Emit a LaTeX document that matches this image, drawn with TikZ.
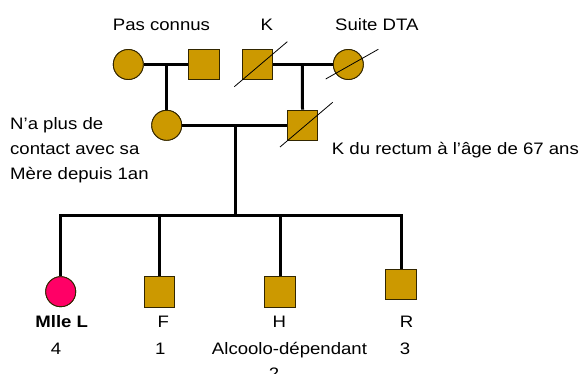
\documentclass[tikz,border=0pt]{standalone}
\usepackage{fontspec}
\setmainfont[FakeStretch=1.12]{Liberation Sans}
\usetikzlibrary{calc}
\begin{document}
\begin{tikzpicture}[x=1pt,y=-1pt,
  gold/.style={fill=myGold,draw=myEdge,line width=0.9pt,inner sep=0pt},
  fem/.style={gold,circle,minimum size=30pt},
  masc/.style={gold,rectangle,minimum size=30.4pt},
  link/.style={line width=3pt,line cap=butt},
  dead/.style={line width=0.8pt},
  lbl/.style={inner sep=0pt,font=\fontsize{16.6}{20}\selectfont}]
\definecolor{myGold}{RGB}{204,153,0}
\definecolor{myPink}{RGB}{255,0,102}
\definecolor{myEdge}{RGB}{50,38,0}
\useasboundingbox (0,0) rectangle (580,374);
% generation I
\node[fem]  (gm1) at (128.3,64.5) {};
\node[masc] (gp1) at (204,64.5) {};
\node[masc] (gp2) at (257.3,64.5) {};
\node[fem]  (gm2) at (348.3,64.5) {};
% generation II
\node[fem]  (mo) at (166.7,125.3) {};
\node[masc] (fa) at (302.5,125.3) {};
% generation III
\node[fem,fill=myPink] (L) at (60.7,291.7) {};
\node[masc] (F) at (159.2,292) {};
\node[masc] (H) at (280,292) {};
\node[masc] (R) at (401,284.3) {};
% couples and descent
\coordinate (c1) at (166.7,64.5);
\coordinate (c2) at (302.3,64.5);
\coordinate (c3) at (235,125.3);
\coordinate (sib) at (235,215.7);
\coordinate (sL) at (60.7,215.7);
\coordinate (sF) at (159.2,215.7);
\coordinate (sH) at (280,215.7);
\coordinate (sR) at (401,215.7);
\draw[link] (gm1.east) -- (gp1.west);
\draw[link] (gp2.east) -- (gm2.west);
\draw[link] (c1) -- (mo.north);
\draw[link] (c2) -- (fa.north);
\draw[link] (mo.east) -- (fa.west);
\draw[link,line cap=rect] (c3) -- (sib);
\draw[link,line cap=rect] (sL) -- (sR);
\draw[link] (sL) -- (L.north);
\draw[link] (sF) -- (F.north);
\draw[link] (sH) -- (H.north);
\draw[link] (sR) -- (R.north);
% redraw shapes on top
\node[fem]  at (gm1) {};
\node[masc] at (gp1) {};
\node[masc] at (gp2) {};
\node[fem]  at (gm2) {};
\node[fem]  at (mo) {};
\node[masc] at (fa) {};
\node[fem,fill=myPink] at (L) {};
\node[masc] at (F) {};
\node[masc] at (H) {};
\node[masc] at (R) {};
% deceased marks
\draw[dead] ($(gp2)+(-23,22.2)$) -- ($(gp2)+(30,-22.8)$);
\draw[dead] ($(gm2)+(-22.6,14.5)$) -- ($(gm2)+(30,-15.2)$);
\draw[dead] ($(fa)+(-22.5,21.7)$) -- ($(fa)+(30.2,-23)$);
% labels
\node[lbl,anchor=base west] (t1) at (112.7,30.7) {Pas connus};
\node[lbl,anchor=base] (t2) at (266.7,30.7) {K};
\node[lbl,anchor=base west] (t3) at (335,30.7) {Suite DTA};
\node[lbl,anchor=base west] (t4) at (10,130) {N’a plus de};
\node[lbl,anchor=base west] (t5) at (10,154.3) {contact avec sa};
\node[lbl,anchor=base west] (t6) at (10,179) {Mère depuis 1an};
\node[lbl,anchor=base west] (t7) at (331.7,154.3) {K du rectum à l’âge de 67 ans};
\node[lbl,anchor=base,font=\fontsize{16.6}{20}\selectfont\bfseries] (t8) at (61.7,327.7) {Mlle L};
\node[lbl,anchor=base] (t9) at (56,354) {4};
\node[lbl,anchor=base] (t10) at (163.3,327.7) {F};
\node[lbl,anchor=base] (t11) at (160.3,354) {1};
\node[lbl,anchor=base] (t12) at (279.3,327.7) {H};
\node[lbl,anchor=base] (t13) at (289.5,354) {Alcoolo-dépendant};
\node[lbl,anchor=base] (t14) at (274,379) {2};
\node[lbl,anchor=base] (t15) at (406.7,327.7) {R};
\node[lbl,anchor=base] (t16) at (405,354) {3};
\end{tikzpicture}
\end{document}
